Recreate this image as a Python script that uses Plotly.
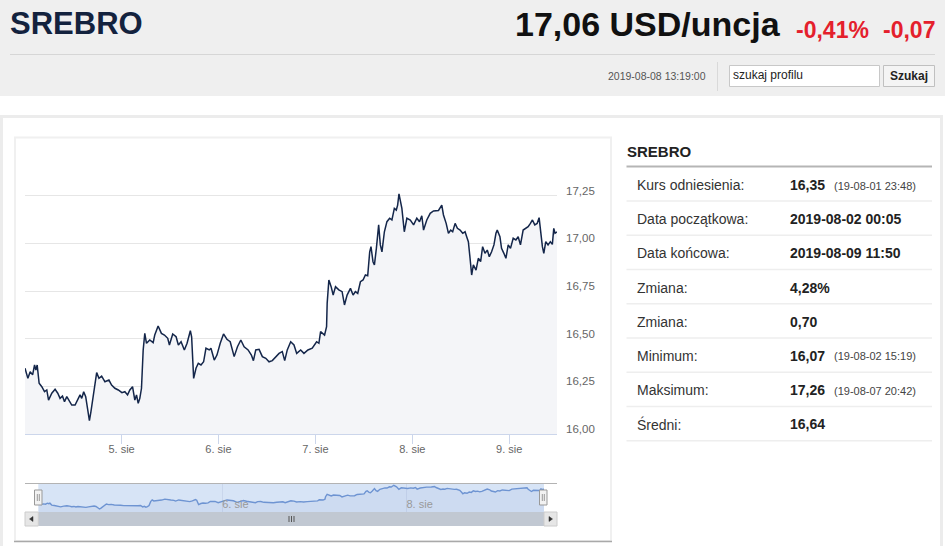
import plotly.graph_objects as go

W, H = 945, 546

# ---------------- data ----------------
instrument = "SREBRO"
last_price = "17,06 USD/uncja"
change_pct = "-0,41%"
change_abs = "-0,07"
quote_time = "2019-08-08 13:19:00"
search_placeholder = "szukaj profilu"
search_button = "Szukaj"

aug02_times = ["00:05", "00:48", "01:22", "01:58", "02:27", "02:47", "03:06", "03:35", "04:15", "04:55",
               "05:29", "05:55", "06:43", "07:32", "08:12", "08:46", "09:22", "09:52", "10:26", "11:00",
               "11:40", "12:29", "13:09", "13:43", "14:08", "14:37", "15:07", "15:32", "16:02", "16:25",
               "16:51", "17:25", "17:50", "18:24", "19:04", "19:53", "20:52", "21:32", "22:21", "23:11"]
aug02_prices = [16.345, 16.292, 16.327, 16.310, 16.362, 16.336, 16.362, 16.266, 16.248, 16.222,
                16.231, 16.178, 16.214, 16.235, 16.214, 16.187, 16.199, 16.169, 16.196, 16.178,
                16.152, 16.152, 16.178, 16.205, 16.187, 16.222, 16.196, 16.135, 16.070, 16.117,
                16.178, 16.266, 16.322, 16.292, 16.304, 16.274, 16.283, 16.257, 16.240, 16.231]

aug05_times = ["00:05", "00:49", "01:29", "02:03", "02:43", "03:17", "03:42", "04:07", "04:31", "04:56",
               "05:21", "05:45", "06:10", "06:59", "07:49", "08:13", "09:03", "09:52", "10:37", "11:26",
               "11:51", "12:40", "13:30", "14:04", "14:44", "15:33", "16:13", "17:02", "17:21", "17:51",
               "18:26", "19:00", "19:40", "20:19", "20:54", "21:43", "22:08", "22:57", "23:37"]
aug05_prices = [16.217, 16.222, 16.205, 16.231, 16.248, 16.178, 16.205, 16.161, 16.187, 16.240,
                16.441, 16.528, 16.476, 16.493, 16.479, 16.519, 16.567, 16.528, 16.519, 16.502,
                16.467, 16.525, 16.510, 16.467, 16.484, 16.441, 16.476, 16.542, 16.510, 16.292,
                16.345, 16.371, 16.362, 16.379, 16.450, 16.441, 16.450, 16.388, 16.414]

aug06_times = ["00:26", "01:15", "02:05", "02:54", "03:53", "04:42", "05:32", "06:21", "07:20", "08:09",
               "08:39", "09:14", "10:03", "10:52", "11:43", "12:31", "13:20", "14:11", "15:00", "15:48",
               "16:24", "17:02", "17:53", "18:42", "19:22", "20:21", "21:10", "22:09", "23:13"]
aug06_prices = [16.476, 16.525, 16.497, 16.484, 16.406, 16.458, 16.493, 16.458, 16.441, 16.414,
                16.385, 16.441, 16.444, 16.406, 16.397, 16.379, 16.385, 16.406, 16.423, 16.432,
                16.385, 16.441, 16.484, 16.467, 16.423, 16.441, 16.423, 16.441, 16.450]

aug07_times = ["00:18", "00:52", "01:17", "01:41", "02:16", "02:46", "02:55", "03:20", "03:54", "04:24",
               "04:59", "05:48", "06:37", "07:12", "07:51", "08:41", "09:20", "09:55", "10:29", "11:09",
               "11:48", "12:23", "12:57", "13:27", "13:46", "14:16", "14:37", "15:06", "15:40", "16:05",
               "16:29", "17:05", "17:43", "18:23", "18:57", "19:33", "20:02", "20:22", "20:42", "21:25",
               "22:01", "22:39", "23:30"]
aug07_prices = [16.484, 16.476, 16.537, 16.530, 16.519, 16.563, 16.686, 16.808, 16.773, 16.729,
                16.773, 16.756, 16.747, 16.677, 16.729, 16.764, 16.729, 16.747, 16.738, 16.799,
                16.808, 16.834, 16.830, 16.956, 16.983, 16.904, 16.887, 16.974, 17.097, 16.992,
                16.956, 17.061, 17.114, 17.132, 17.123, 17.184, 17.175, 17.201, 17.260, 17.184,
                17.061, 17.132, 17.123]

aug08_times = ["00:19", "01:07", "01:47", "02:21", "02:47", "03:35", "04:26", "05:15", "06:29", "07:18",
               "07:43", "08:23", "08:57", "09:31", "10:00", "10:36", "11:10", "11:50", "12:29", "13:04",
               "13:28", "13:53", "14:18", "14:42", "15:07", "15:47", "16:21", "16:55", "17:25", "18:00",
               "18:34", "19:04", "19:38", "20:13", "20:43", "21:02", "21:42", "22:06", "22:41", "23:11",
               "23:45"]
aug08_prices = [17.097, 17.132, 17.114, 17.145, 17.070, 17.123, 17.158, 17.170, 17.173, 17.201,
                17.149, 17.105, 17.053, 17.070, 17.061, 17.105, 17.079, 17.070, 17.053, 17.061,
                17.035, 17.009, 16.922, 16.834, 16.887, 16.860, 16.922, 16.904, 16.983, 16.948,
                16.965, 16.930, 16.956, 16.992, 17.053, 17.070, 17.035, 16.974, 16.948, 16.922,
                16.992]

aug09_times = ["00:19", "00:59", "01:39", "02:13", "02:47", "03:27", "04:07", "04:41", "05:15", "05:45",
               "06:20", "06:55", "07:24", "07:43", "08:13", "08:34", "09:03", "09:37", "10:11", "10:41",
               "11:02", "11:21", "11:50"]
aug09_prices = [16.974, 17.027, 17.018, 17.035, 16.992, 17.070, 17.079, 17.088, 17.105, 17.123,
                17.097, 17.105, 17.135, 17.061, 16.983, 16.948, 17.009, 16.992, 17.009, 16.995,
                17.079, 17.053, 17.060]

x_start = "2019-08-02 00:05"
x_end = "2019-08-09 11:50"
y_tick_values = [16.00, 16.25, 16.50, 16.75, 17.00, 17.25, 17.50]
y_tick_labels = ["16,00", "16,25", "16,50", "16,75", "17,00", "17,25", ""]
x_tick_dates = ["2019-08-05", "2019-08-06", "2019-08-07", "2019-08-08", "2019-08-09"]
x_tick_labels = ["5. sie", "6. sie", "7. sie", "8. sie", "9. sie"]
nav_tick_dates = ["2019-08-06", "2019-08-08"]
nav_tick_labels = ["6. sie", "8. sie"]

stat_labels = ["Kurs odniesienia:", "Data początkowa:", "Data końcowa:", "Zmiana:",
               "Zmiana:", "Minimum:", "Maksimum:", "Średni:"]
stat_values = ["16,35", "2019-08-02 00:05", "2019-08-09 11:50", "4,28%",
               "0,70", "16,07", "17,26", "16,64"]
stat_notes = ["(19-08-01 23:48)", "", "", "", "", "(19-08-02 15:19)", "(19-08-07 20:42)", ""]

# ---------------- build series ----------------
days = [("2019-08-02", aug02_times, aug02_prices),
        ("2019-08-05", aug05_times, aug05_prices),
        ("2019-08-06", aug06_times, aug06_prices),
        ("2019-08-07", aug07_times, aug07_prices),
        ("2019-08-08", aug08_times, aug08_prices),
        ("2019-08-09", aug09_times, aug09_prices)]
times, prices = [], []
for d, ts, ps in days:
    times += [f"{d} {t}" for t in ts]
    prices += ps

FONT = "Arial, 'Liberation Sans', sans-serif"


def fx(px):
    return px / W


def fy(py):
    return 1 - py / H


fig = go.Figure()
fig.add_trace(go.Scatter(x=times, y=prices, mode="lines", xaxis="x", yaxis="y",
                         line=dict(color="#14264a", width=1.5),
                         fill="tozeroy", fillcolor="#f4f5f8", hoverinfo="skip"))
fig.add_trace(go.Scatter(x=times, y=prices, mode="lines", xaxis="x2", yaxis="y2",
                         line=dict(color="#6e94d2", width=1.4),
                         fill="tozeroy", fillcolor="rgba(51,92,173,0.06)", hoverinfo="skip"))

rb = [dict(bounds=["sat", "mon"])]

shapes = []


def rect(x0, y0, x1, y1, fill=None, line=None, lw=1, layer="below"):
    shapes.append(dict(type="rect", xref="paper", yref="paper",
                       x0=fx(x0), x1=fx(x1), y0=fy(y1), y1=fy(y0),
                       fillcolor=fill or "rgba(0,0,0,0)",
                       line=dict(color=line or "rgba(0,0,0,0)", width=lw if line else 0),
                       layer=layer))


def hline(x0, x1, y, color, lw=1, layer="above"):
    shapes.append(dict(type="line", xref="paper", yref="paper", x0=fx(x0), x1=fx(x1),
                       y0=fy(y), y1=fy(y), line=dict(color=color, width=lw), layer=layer))


def vline(x, y0, y1, color, lw=1, layer="above"):
    shapes.append(dict(type="line", xref="paper", yref="paper", x0=fx(x), x1=fx(x),
                       y0=fy(y0), y1=fy(y1), line=dict(color=color, width=lw), layer=layer))


def tri(points, color):
    path = "M " + " L ".join(f"{fx(x):.5f},{fy(y):.5f}" for x, y in points) + " Z"
    shapes.append(dict(type="path", xref="paper", yref="paper", path=path,
                       fillcolor=color, line=dict(color=color, width=0.5), layer="above"))


# header
rect(0, 0, 945, 96, fill="#efefef")
hline(10, 935, 54.5, "#d6d6d6", 1)
vline(717.5, 62, 91, "#d9d9d9", 1)
rect(729.5, 65.5, 879.5, 86.5, fill="#ffffff", line="#c8c8c8", lw=1, layer="above")
rect(883.5, 65.5, 934.5, 86.5, fill="#f4f4f4", line="#c0c0c0", lw=1, layer="above")
# content frames (kept inside the page)
hline(0, 943, 116.5, "#ececec", 3)
vline(1.5, 115, 546, "#ececec", 3)
vline(941.5, 115, 546, "#ececec", 3)
rect(15, 137.5, 611, 541, line="#f0f0f0", lw=2)
hline(14, 612, 541.5, "#a9a9a9", 1.5)
# table lines
hline(626.5, 932, 166.5, "#b5b5b5", 2)
for i in range(8):
    hline(626.5, 932, 201 + i * 34.24, "#eeeeee", 1.5)
# navigator
shapes.append(dict(type="rect", xref="x2 domain", yref="y2 domain", x0=0, x1=1, y0=0, y1=1,
                   fillcolor="#d7e4f6", line=dict(width=0), layer="below"))
hline(25, 557, 483.5, "#b3b3b3", 1)
rect(38.3, 512, 544, 526, fill="#c1c8d2", layer="above")
rect(25, 512, 38.3, 526, fill="#e6e6e6", line="#cccccc", lw=1, layer="above")
rect(544, 512, 557, 526, fill="#e6e6e6", line="#cccccc", lw=1, layer="above")
tri([(33, 516.5), (29.5, 519), (33, 521.5)], "#333333")
tri([(549, 516.5), (552.5, 519), (549, 521.5)], "#333333")
for gx in (289, 291.5, 294):
    vline(gx, 516, 522, "#555555", 1)
for hx in (34.5, 539.5):
    rect(hx, 490, hx + 7.5, 505, fill="#f2f2f2", line="#999999", lw=1, layer="above")
    vline(hx + 2.8, 494, 501, "#999999", 1)
    vline(hx + 4.8, 494, 501, "#999999", 1)

annotations = []


def text(x, y, s, size, color, anchor="left", bold=False, family=FONT):
    annotations.append(dict(xref="paper", yref="paper", x=fx(x), y=fy(y),
                            text=f"<b>{s}</b>" if bold else s, showarrow=False,
                            xanchor=anchor, yanchor="middle",
                            font=dict(family=family, size=size, color=color)))


text(8, 24, instrument, 31, "#13223e", bold=True)
text(783, 24, last_price, 34, "#111111", anchor="right", bold=True)
text(794, 30, change_pct, 23, "#e4202c", bold=True)
text(881, 30, change_abs, 23, "#e4202c", bold=True)
text(708, 76, quote_time, 10.5, "#555555", anchor="right")
text(731, 75.5, search_placeholder, 12, "#222222")
text(909, 76, search_button, 12, "#222222", anchor="center", bold=True)

text(625, 151, instrument, 15, "#222222", bold=True)
for i, (lab, val, note) in enumerate(zip(stat_labels, stat_values, stat_notes)):
    y = 185 + i * 34.17
    text(635, y, lab, 14, "#333333")
    text(787.5, y, val, 14, "#222222", bold=True)
    if note:
        text(831.5, y + 0.5, note, 11, "#444444")

fig.update_layout(
    autosize=True, margin=dict(l=0, r=0, t=0, b=0),
    paper_bgcolor="#ffffff", plot_bgcolor="#ffffff", showlegend=False, hovermode=False,
    xaxis=dict(domain=[fx(25), fx(557)], range=[x_start, x_end], rangebreaks=rb,
               tickvals=x_tick_dates, ticktext=x_tick_labels, ticks="outside", ticklen=9,
               tickcolor="#ccd6eb", showline=True, linecolor="#ccd6eb", showgrid=False,
               zeroline=False, tickfont=dict(family=FONT, size=11, color="#666666"),
               ticklabelstandoff=-4, anchor="y"),
    yaxis=dict(domain=[fy(434), fy(148.1)], range=[16, 17.5], side="right",
               tickvals=y_tick_values, ticktext=y_tick_labels, showgrid=True,
               gridcolor="#e6e6e6", zeroline=False, showline=False, ticks="",
               tickfont=dict(family=FONT, size=11.5, color="#666666"),
               ticklabelstandoff=8, ticklabelshift=-5, anchor="x"),
    xaxis2=dict(domain=[fx(38.3), fx(544)], range=[x_start, x_end], rangebreaks=rb,
                tickvals=nav_tick_dates, ticktext=nav_tick_labels,
                ticklabelposition="inside right", ticklabelstandoff=-4,
                showgrid=True, gridcolor="#c9d6ec",
                ticks="", showline=False, zeroline=False,
                tickfont=dict(family=FONT, size=11, color="#999999"), anchor="y2"),
    yaxis2=dict(domain=[fy(512), fy(483.3)], range=[15.92, 17.36], visible=False, anchor="x2"),
    shapes=shapes, annotations=annotations,
)

page_js = ("}); document.body.style.margin='0'; document.body.style.overflow='hidden';"
           " document.documentElement.style.overflow='hidden'; (function(){")

fig.write_html("out.html", config={"displayModeBar": False, "responsive": True},
               default_width="100vw", default_height="100vh", post_script=page_js)
